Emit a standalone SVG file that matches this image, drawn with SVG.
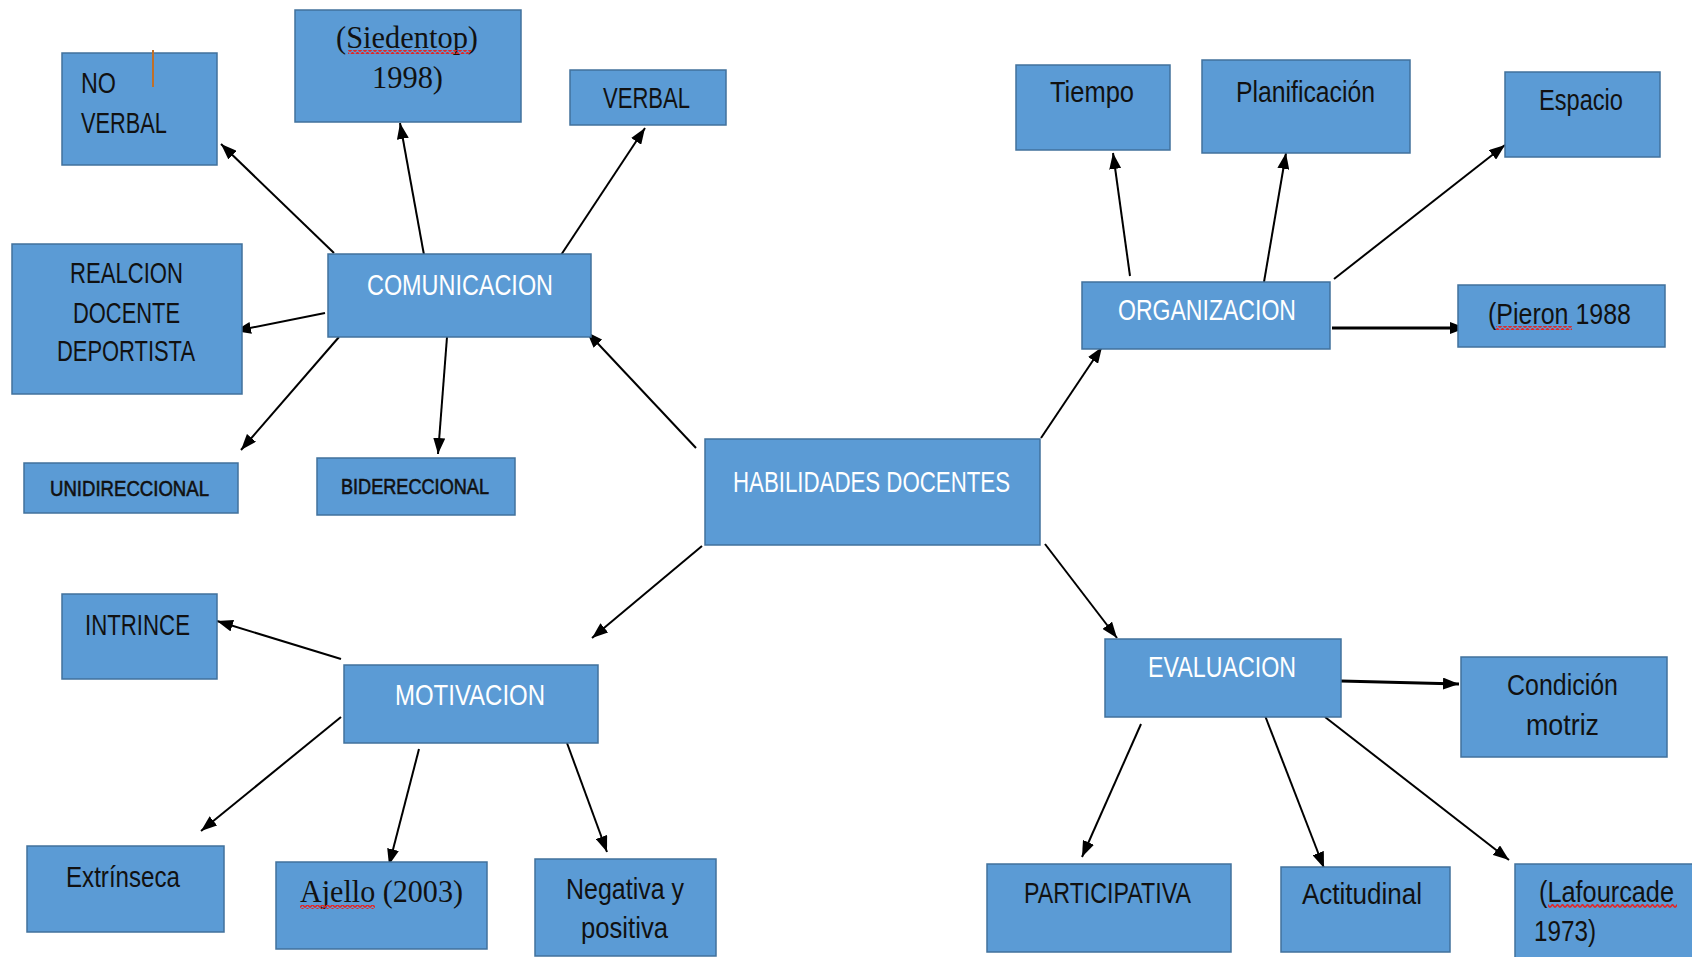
<svg xmlns="http://www.w3.org/2000/svg" width="1692" height="957" viewBox="0 0 1692 957">
<style>
.box{fill:#5B9BD5;stroke:#41719C;stroke-width:1.5}
.t{font-family:"Liberation Sans","Noto Sans",sans-serif;font-size:29px;fill:#111}
.w{fill:#fff}
.s{font-family:"Liberation Serif","DejaVu Serif",serif;font-size:31px;fill:#111}
.b{font-family:"Liberation Sans","Noto Sans",sans-serif;font-size:22px;fill:#111;stroke:#111;stroke-width:0.6}
.c{fill:none;stroke:#000;stroke-width:2;marker-end:url(#ah)}
.c3{stroke-width:3}
.sq{fill:url(#squig)}
</style>
<defs>
<marker id="ah" markerUnits="userSpaceOnUse" markerWidth="16" markerHeight="12" refX="16" refY="6" orient="auto">
<path d="M0,0 L16,6 L0,12 z" fill="#000"/>
</marker>
<pattern id="squig" patternUnits="userSpaceOnUse" width="5" height="4">
<path d="M0,3.5 L2.5,0.5 L5,3.5" fill="none" stroke="#E02828" stroke-width="1.6"/>
</pattern>
</defs>
<rect width="1692" height="957" fill="#fff"/>
<g id="connectors">
<line class="c" x1="334" y1="253" x2="221" y2="144"/>
<line class="c" x1="424" y1="255" x2="400" y2="123"/>
<line class="c" x1="561" y1="255" x2="645" y2="128"/>
<line class="c" x1="325" y1="313" x2="235" y2="331"/>
<line class="c" x1="339" y1="337" x2="241" y2="450"/>
<line class="c" x1="447" y1="337" x2="438" y2="454"/>
<line class="c" x1="696" y1="448" x2="587" y2="332"/>
<line class="c" x1="1041" y1="438" x2="1102" y2="347"/>
<line class="c" x1="1130" y1="276" x2="1113" y2="153"/>
<line class="c" x1="1264" y1="282" x2="1286" y2="153"/>
<line class="c" x1="1334" y1="279" x2="1505" y2="145"/>
<line class="c c3" x1="1332" y1="328" x2="1466" y2="328"/>
<line class="c" x1="702" y1="546" x2="592" y2="638"/>
<line class="c" x1="341" y1="659" x2="217" y2="621"/>
<line class="c" x1="341" y1="717" x2="201" y2="831"/>
<line class="c" x1="419" y1="749" x2="389" y2="865"/>
<line class="c" x1="567" y1="743" x2="607" y2="852"/>
<line class="c" x1="1045" y1="544" x2="1117" y2="638"/>
<line class="c c3" x1="1341" y1="681" x2="1459" y2="684"/>
<line class="c" x1="1141" y1="724" x2="1082" y2="857"/>
<line class="c" x1="1264" y1="713" x2="1324" y2="868"/>
<line class="c" x1="1325" y1="717" x2="1509" y2="860"/>
</g>
<g id="noverbal">
<rect class="box" x="62" y="53" width="155" height="112"/>
<text class="t" x="81" y="93" textLength="35" lengthAdjust="spacingAndGlyphs">NO</text>
<text class="t" x="81" y="133" textLength="86" lengthAdjust="spacingAndGlyphs">VERBAL</text>
<line x1="153" y1="50" x2="153" y2="87" stroke="#C0702A" stroke-width="2"/>
</g>
<g id="siedentop">
<rect class="box" x="295" y="10" width="226" height="112"/>
<text class="s" x="336" y="48" textLength="142" lengthAdjust="spacingAndGlyphs">(Siedentop)</text>
<rect class="sq" x="348" y="50" width="123" height="4"/>
<text class="s" x="372" y="88" textLength="71" lengthAdjust="spacingAndGlyphs">1998)</text>
</g>
<g id="verbal">
<rect class="box" x="570" y="70" width="156" height="55"/>
<text class="t" x="603" y="108" textLength="87" lengthAdjust="spacingAndGlyphs">VERBAL</text>
</g>
<g id="realcion">
<rect class="box" x="12" y="244" width="230" height="150"/>
<text class="t" x="70" y="283" textLength="113" lengthAdjust="spacingAndGlyphs">REALCION</text>
<text class="t" x="73" y="323" textLength="107" lengthAdjust="spacingAndGlyphs">DOCENTE</text>
<text class="t" x="57" y="361" textLength="138" lengthAdjust="spacingAndGlyphs">DEPORTISTA</text>
</g>
<g id="comunicacion">
<rect class="box" x="328" y="254" width="263" height="83"/>
<text class="t w" x="367" y="295" textLength="186" lengthAdjust="spacingAndGlyphs">COMUNICACION</text>
</g>
<g id="unidireccional">
<rect class="box" x="24" y="463" width="214" height="50"/>
<text class="b" x="50" y="496" textLength="159" lengthAdjust="spacingAndGlyphs">UNIDIRECCIONAL</text>
</g>
<g id="bidereccional">
<rect class="box" x="317" y="458" width="198" height="57"/>
<text class="b" x="341" y="494" textLength="148" lengthAdjust="spacingAndGlyphs">BIDERECCIONAL</text>
</g>
<g id="habilidades">
<rect class="box" x="705" y="439" width="335" height="106"/>
<text class="t w" x="733" y="492" textLength="277" lengthAdjust="spacingAndGlyphs">HABILIDADES DOCENTES</text>
</g>
<g id="tiempo">
<rect class="box" x="1016" y="65" width="154" height="85"/>
<text class="t" x="1050" y="102" textLength="84" lengthAdjust="spacingAndGlyphs">Tiempo</text>
</g>
<g id="planificacion">
<rect class="box" x="1202" y="60" width="208" height="93"/>
<text class="t" x="1236" y="102" textLength="139" lengthAdjust="spacingAndGlyphs">Planificación</text>
</g>
<g id="espacio">
<rect class="box" x="1505" y="72" width="155" height="85"/>
<text class="t" x="1539" y="110" textLength="84" lengthAdjust="spacingAndGlyphs">Espacio</text>
</g>
<g id="organizacion">
<rect class="box" x="1082" y="282" width="248" height="67"/>
<text class="t w" x="1118" y="320" textLength="178" lengthAdjust="spacingAndGlyphs">ORGANIZACION</text>
</g>
<g id="pieron">
<rect class="box" x="1458" y="285" width="207" height="62"/>
<text class="t" x="1488" y="324" textLength="143" lengthAdjust="spacingAndGlyphs">(Pieron 1988</text>
<rect class="sq" x="1496" y="326" width="76" height="4"/>
</g>
<g id="intrince">
<rect class="box" x="62" y="594" width="155" height="85"/>
<text class="t" x="85" y="635" textLength="105" lengthAdjust="spacingAndGlyphs">INTRINCE</text>
</g>
<g id="motivacion">
<rect class="box" x="344" y="665" width="254" height="78"/>
<text class="t w" x="395" y="705" textLength="150" lengthAdjust="spacingAndGlyphs">MOTIVACION</text>
</g>
<g id="extrinseca">
<rect class="box" x="27" y="846" width="197" height="86"/>
<text class="t" x="66" y="887" textLength="114" lengthAdjust="spacingAndGlyphs">Extrínseca</text>
</g>
<g id="ajello">
<rect class="box" x="276" y="862" width="211" height="87"/>
<text class="s" x="300" y="902" textLength="163" lengthAdjust="spacingAndGlyphs">Ajello (2003)</text>
<rect class="sq" x="300" y="905" width="75" height="4"/>
</g>
<g id="negativa">
<rect class="box" x="535" y="859" width="181" height="97"/>
<text class="t" x="566" y="899" textLength="118" lengthAdjust="spacingAndGlyphs">Negativa y</text>
<text class="t" x="581" y="938" textLength="87" lengthAdjust="spacingAndGlyphs">positiva</text>
</g>
<g id="evaluacion">
<rect class="box" x="1105" y="639" width="236" height="78"/>
<text class="t w" x="1148" y="677" textLength="148" lengthAdjust="spacingAndGlyphs">EVALUACION</text>
</g>
<g id="condicion">
<rect class="box" x="1461" y="657" width="206" height="100"/>
<text class="t" x="1507" y="695" textLength="111" lengthAdjust="spacingAndGlyphs">Condición</text>
<text class="t" x="1526" y="735" textLength="73" lengthAdjust="spacingAndGlyphs">motriz</text>
</g>
<g id="participativa">
<rect class="box" x="987" y="864" width="244" height="88"/>
<text class="t" x="1024" y="903" textLength="167" lengthAdjust="spacingAndGlyphs">PARTICIPATIVA</text>
</g>
<g id="actitudinal">
<rect class="box" x="1281" y="867" width="169" height="85"/>
<text class="t" x="1302" y="904" textLength="120" lengthAdjust="spacingAndGlyphs">Actitudinal</text>
</g>
<g id="lafourcade">
<rect class="box" x="1515" y="864" width="200" height="110"/>
<text class="t" x="1539" y="902" textLength="135" lengthAdjust="spacingAndGlyphs">(Lafourcade</text>
<rect class="sq" x="1548" y="904" width="129" height="4"/>
<text class="t" x="1534" y="941" textLength="62" lengthAdjust="spacingAndGlyphs">1973)</text>
</g>
</svg>
